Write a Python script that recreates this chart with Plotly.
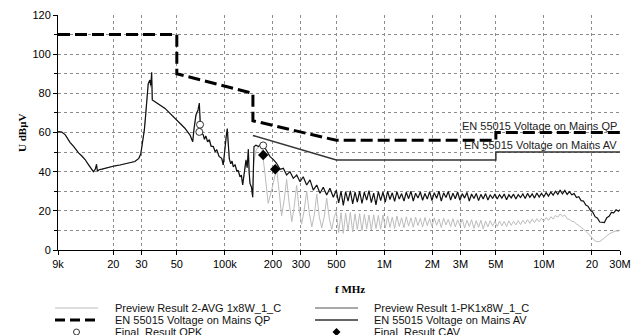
import numpy as np
import plotly.graph_objects as go

# ---------------- data (frequencies in kHz, levels in dBuV) ----------------
lf_khz = [
    9.0, 9.5, 10.0, 10.7, 11.3, 12.1, 12.7, 13.3, 14.0, 14.5,
    15.0, 15.4, 15.7, 15.9, 16.3, 17.0, 17.7, 19.0, 20.5, 22.0,
    23.7, 25.5, 27.3, 28.9, 29.7, 30.1, 30.7, 31.3, 31.9, 32.4,
    33.1, 33.9, 34.3, 34.8, 35.1, 36.5, 39.0, 42.2, 45.0, 48.7,
    52.4, 56.0, 60.5, 62.9, 64.1, 65.9, 67.9, 69.2, 70.6, 73.3,
    74.5, 76.0, 78.0, 80.0, 82.0, 84.7, 87.0, 89.0, 92.0, 95.6,
    97.8, 100.2, 102.0, 103.6, 104.5, 106.7, 109.0, 111.0, 113.0, 116.0,
    119.0, 121.0, 124.5, 127.0, 129.4, 132.0, 135.7, 138.0, 140.4, 142.0,
    143.8, 147.0, 149.5]
pk_lf = [
    60.5, 60.2, 58.8, 55.0, 52.8, 49.6, 48.0, 46.2, 43.5, 41.5,
    40.0, 41.2, 43.8, 40.2, 41.0, 41.3, 41.7, 42.4, 43.0, 43.4,
    43.9, 44.4, 45.2, 46.8, 49.0, 52.0, 56.0, 61.3, 69.0, 76.6,
    85.0, 86.8, 84.0, 90.8, 76.6, 75.7, 74.3, 72.3, 70.0, 67.3,
    65.0, 62.3, 58.7, 55.3, 62.0, 69.0, 71.5, 75.0, 60.4, 58.7,
    56.5, 58.2, 55.2, 56.3, 53.0, 52.8, 50.2, 51.2, 47.8, 46.8,
    43.4, 54.5, 58.0, 62.0, 55.0, 46.5, 44.0, 45.4, 42.5, 43.6,
    40.0, 40.8, 37.4, 38.2, 33.2, 38.0, 46.0, 42.0, 51.5, 40.0,
    34.0, 32.0, 27.0]
avg_lf = [
    60.5, 60.2, 58.8, 55.0, 52.8, 49.6, 48.0, 46.2, 43.5, 41.5,
    40.0, 41.0, 42.0, 40.2, 41.0, 41.3, 41.7, 42.4, 43.0, 43.4,
    43.9, 44.4, 45.2, 46.8, 49.0, 52.0, 56.0, 61.3, 69.0, 76.6,
    85.0, 86.5, 83.0, 86.0, 76.6, 75.7, 74.3, 72.3, 70.0, 67.3,
    65.0, 62.3, 58.7, 55.3, 61.0, 68.0, 71.0, 71.5, 60.4, 58.7,
    56.5, 58.2, 55.2, 56.3, 53.0, 52.8, 50.2, 51.2, 47.8, 46.8,
    43.4, 54.0, 57.5, 59.5, 54.0, 46.5, 44.0, 45.4, 42.5, 43.6,
    40.0, 40.8, 37.4, 38.2, 33.2, 38.0, 45.5, 42.0, 50.0, 40.0,
    34.0, 32.0, 27.0]

pk_mid_khz = [152.3, 156.8, 162.4, 168.0, 174.3, 183.0, 192.0, 201.0, 211.0, 222.0,
              232.6, 244.0, 256.0, 268.7, 282.2, 296.0, 310.0, 325.8, 342.0, 358.6,
              376.6, 395.0, 414.0, 435.0, 456.0, 478.6]
pk_mid = [52.8, 53.5, 52.8, 54.0, 53.6, 50.2, 47.7, 46.3, 44.3, 41.2,
          41.7, 38.3, 40.0, 36.6, 38.3, 34.9, 37.4, 33.2, 35.8, 30.6,
          33.2, 29.0, 32.0, 28.1, 31.5, 26.9]

avg_mid_khz = [152, 157, 165, 170, 178, 187, 197, 211, 219, 227,
               236, 244, 253, 263, 272, 282, 292, 303, 314, 326,
               339, 351, 364, 377, 391, 405, 420, 435, 452, 468, 485]
avg_mid = [45.0, 51.0, 53.5, 53.0, 40.0, 23.8, 31.0, 41.5, 30.0, 17.5,
           26.0, 36.0, 24.0, 14.5, 22.0, 33.0, 21.0, 13.2, 20.0, 30.0,
           18.5, 11.8, 18.0, 28.5, 17.0, 11.3, 17.0, 26.5, 16.0, 10.5, 17.0]

hf_khz = [
    500, 517, 535, 553, 572, 592, 612, 633, 655, 677,
    700, 724, 749, 775, 801, 829, 857, 886, 917, 948,
    980, 1014, 1048, 1084, 1121, 1160, 1199, 1240, 1283, 1327,
    1372, 1419, 1468, 1518, 1570, 1624, 1680, 1737, 1797, 1858,
    1922, 1988, 2056, 2126, 2199, 2274, 2352, 2433, 2516, 2602,
    2691, 2783, 2878, 2977, 3079, 3184, 3293, 3406, 3522, 3643,
    3767, 3896, 4030, 4167, 4310, 4457, 4610, 4768, 4931, 5099,
    5274, 5454, 5641, 5834, 6033, 6240, 6453, 6674, 6902, 7138,
    7383, 7635, 7896, 8167, 8446, 8735, 9034, 9343, 9662, 9993,
    10335, 10688, 11054, 11432, 11823, 12228, 12646, 13078, 13526, 13988,
    14467, 14962, 15474, 16003, 16551, 17117, 17702, 18308, 18934, 19582,
    20252, 20944, 21661, 22402, 23168, 23960, 24780, 25628, 26504, 27411,
    28348, 29318, 30000]
pk_hf = [
    30.5, 24.0, 30.0, 22.8, 29.8, 25.0, 30.2, 23.5, 29.6, 24.5,
    30.0, 23.8, 29.5, 25.5, 30.3, 24.2, 29.0, 23.0, 29.8, 25.2,
    29.6, 24.5, 30.0, 25.8, 29.2, 24.8, 29.8, 26.0, 28.8, 25.0,
    29.5, 26.2, 30.0, 25.0, 29.0, 26.5, 29.6, 25.4, 28.9, 26.0,
    29.8, 25.2, 29.3, 26.4, 30.0, 25.0, 29.2, 26.8, 29.9, 25.5,
    29.0, 26.2, 29.6, 25.4, 28.8, 26.5, 29.4, 25.0, 28.6, 26.3,
    28.9, 25.2, 28.4, 26.0, 28.8, 25.5, 28.2, 26.3, 28.6, 26.0,
    28.3, 26.5, 28.6, 25.6, 28.2, 26.6, 28.5, 26.0, 28.3, 26.8,
    28.6, 26.3, 28.9, 26.9, 28.7, 26.5, 29.1, 27.0, 28.9, 27.2,
    29.3, 27.5, 29.6, 28.0, 30.0, 28.4, 30.6, 28.6, 30.4, 28.4,
    29.8, 28.2, 28.8, 26.8, 27.2, 25.2, 25.0, 23.0, 22.3, 20.3,
    19.3, 17.0, 16.2, 14.3, 14.1, 14.0, 16.5, 17.2, 19.2, 19.0,
    20.5, 19.8, 20.6]
avg_hf = [
    19.5, 9.0, 19.0, 8.5, 18.8, 10.0, 19.2, 9.2, 18.5, 10.5,
    18.6, 10.0, 18.2, 10.8, 17.8, 10.2, 18.0, 11.0, 17.6, 10.6,
    17.9, 11.2, 17.2, 11.5, 16.8, 11.0, 17.4, 12.0, 16.5, 11.4,
    16.9, 12.2, 16.4, 11.6, 16.8, 12.5, 16.2, 11.8, 16.6, 12.4,
    16.0, 12.0, 16.4, 12.6, 15.8, 11.5, 16.2, 12.8, 15.6, 12.0,
    16.0, 11.8, 15.4, 12.4, 15.8, 11.2, 15.2, 12.0, 15.5, 11.0,
    15.0, 11.6, 15.2, 10.8, 14.8, 11.8, 15.0, 12.2, 14.6, 12.0,
    14.8, 12.4, 14.6, 12.0, 14.9, 12.6, 14.7, 12.8, 15.0, 13.0,
    15.2, 13.4, 15.5, 13.6, 15.8, 14.0, 16.0, 14.4, 16.2, 14.8,
    16.5, 15.2, 17.0, 15.8, 17.6, 16.8, 18.4, 17.2, 17.8, 16.0,
    15.6, 14.6, 14.5, 13.2, 12.6, 11.5, 10.8, 9.6, 8.4, 7.0,
    5.8, 4.6, 4.2, 4.4, 5.2, 6.2, 7.4, 8.2, 8.8, 9.2,
    9.8, 9.6, 10.3]

qp_limit_khz = [9, 50, 50, 150, 150, 500, 5000, 5000, 30000]
qp_limit = [110, 110, 90, 80, 66, 56, 56, 60, 60]
av_limit_khz = [150, 500, 5000, 5000, 30000]
av_limit = [58.5, 46, 46, 50, 50]

qpk_khz = [69.9, 69.2, 174.0]
qpk_db = [64.0, 60.3, 53.4]
cav_khz = [174.0, 207.0]
cav_db = [48.5, 41.2]

x_tickvals_khz = [9, 20, 30, 50, 100, 200, 300, 500, 1000, 2000, 3000, 5000, 10000, 20000, 30000]
x_ticktext = ["9k", "20", "30", "50", "100k", "200", "300", "500", "1M", "2M", "3M", "5M", "10M", "20", "30M"]
y_tickvals = [0, 20, 40, 60, 80, 100, 120]

legend_names = ["Preview Result 2-AVG 1x8W_1_C", "Preview Result 1-PK1x8W_1_C",
                "EN 55015 Voltage on Mains QP", "EN 55015 Voltage on Mains AV",
                "Final_Result QPK", "Final_Result CAV"]

# ---------------- figure ----------------
k = 1e3
avg_x = np.array(lf_khz + avg_mid_khz + hf_khz) * k
avg_y = avg_lf + avg_mid + avg_hf
pk_x = np.array(lf_khz + pk_mid_khz + hf_khz) * k
pk_y = pk_lf + pk_mid + pk_hf

GRAY = "#bcbcbc"
PK = "#111111"

fig = go.Figure()
fig.add_trace(go.Scatter(x=avg_x, y=avg_y, mode="lines", line=dict(color=GRAY, width=1),
                         name=legend_names[0]))
fig.add_trace(go.Scatter(x=pk_x, y=pk_y, mode="lines", line=dict(color=PK, width=1.2),
                         name=legend_names[1]))
fig.add_trace(go.Scatter(x=np.array(qp_limit_khz) * k, y=qp_limit, mode="lines",
                         line=dict(color="black", width=3, dash="12px,5px"), name=legend_names[2]))
fig.add_trace(go.Scatter(x=np.array(av_limit_khz) * k, y=av_limit, mode="lines",
                         line=dict(color="#333333", width=1.5), name=legend_names[3]))
fig.add_trace(go.Scatter(x=np.array(qpk_khz) * k, y=qpk_db, mode="markers",
                         marker=dict(symbol="circle", size=7, color="white",
                                     line=dict(color="#333333", width=1)), name=legend_names[4]))
fig.add_trace(go.Scatter(x=np.array(cav_khz) * k, y=cav_db, mode="markers",
                         marker=dict(symbol="diamond", size=8, color="black"), name=legend_names[5]))

L, R, T, B = 58, 11, 15, 85
W, H = 631, 335
PW, PH = W - L - R, H - T - B


def px(xp):
    return (xp - L) / PW


def py(yp):
    return (H - B - yp) / PH


grid = dict(showgrid=True, gridcolor="#8c8c8c", gridwidth=1, griddash="dot")
fig.update_xaxes(type="log", range=[np.log10(9e3), np.log10(30e6)],
                 tickvals=np.array(x_tickvals_khz) * k, ticktext=x_ticktext,
                 showline=True, linecolor="black", linewidth=1, ticks="outside",
                 ticklen=4, tickcolor="black", zeroline=False, automargin=False, **grid)
fig.update_yaxes(range=[0, 120], tickvals=y_tickvals, showline=True, linecolor="black",
                 linewidth=1, ticks="outside", ticklen=4, tickcolor="black", zeroline=False,
                 automargin=False,
                 minor=dict(dtick=10, showgrid=True, gridcolor="#8c8c8c", griddash="dot",
                            ticks="outside", ticklen=3, tickcolor="black"),
                 **grid)

SANS = "Liberation Sans, Arial, sans-serif"
SERIF = "Liberation Serif, Times New Roman, serif"
ann = []
ann.append(dict(xref="paper", yref="paper", x=px(14), y=py(133), text="<b>U dBμV</b>",
                textangle=-90, showarrow=False, font=dict(family=SERIF, size=11, color="black")))
ann.append(dict(xref="paper", yref="paper", x=px(350), y=py(297), text="<b>f MHz</b>",
                showarrow=False, font=dict(family=SERIF, size=11, color="black")))
ann.append(dict(xref="paper", yref="y", x=px(619), y=qp_limit[-1], text=legend_names[2],
                xanchor="right", yanchor="bottom", yshift=-1, showarrow=False,
                font=dict(family=SANS, size=11, color="#222222")))
ann.append(dict(xref="paper", yref="y", x=px(619), y=av_limit[-1], text=legend_names[3],
                xanchor="right", yanchor="bottom", yshift=-1, showarrow=False,
                font=dict(family=SANS, size=11, color="#222222")))

rows = [308, 320, 332]
cols = [(55, 98, 113), (315, 358, 372)]
shapes = []
order = [(0, 0, 0), (1, 0, 1), (2, 1, 0), (3, 1, 1), (4, 2, 0), (5, 2, 1)]
for idx, r, c in order:
    x0, x1, xt = cols[c]
    yr = rows[r]
    ann.append(dict(xref="paper", yref="paper", x=px(xt), y=py(yr), text=legend_names[idx],
                    xanchor="left", yanchor="middle", showarrow=False,
                    font=dict(family=SANS, size=11, color="#111111")))
    if idx == 0:
        shapes.append(dict(type="line", xref="paper", yref="paper", x0=px(x0), x1=px(x1),
                           y0=py(yr), y1=py(yr), line=dict(color=GRAY, width=1)))
    elif idx == 1:
        shapes.append(dict(type="line", xref="paper", yref="paper", x0=px(x0), x1=px(x1),
                           y0=py(yr), y1=py(yr), line=dict(color="#555555", width=1)))
    elif idx == 2:
        shapes.append(dict(type="line", xref="paper", yref="paper", x0=px(x0), x1=px(x1),
                           y0=py(yr), y1=py(yr),
                           line=dict(color="black", width=3, dash="10px,5px")))
    elif idx == 3:
        shapes.append(dict(type="line", xref="paper", yref="paper", x0=px(x0), x1=px(x1),
                           y0=py(yr), y1=py(yr), line=dict(color="#333333", width=1.5)))
    elif idx == 4:
        cx = (x0 + x1) / 2
        shapes.append(dict(type="circle", xref="paper", yref="paper", x0=px(cx - 3), x1=px(cx + 3),
                           y0=py(yr + 3), y1=py(yr - 3), line=dict(color="#333333", width=1),
                           fillcolor="white"))
    else:
        cx = (x0 + x1) / 2
        pts = [(cx, yr - 4), (cx + 4, yr), (cx, yr + 4), (cx - 4, yr)]
        path = "M " + " L ".join(f"{px(a):.5f},{py(b):.5f}" for a, b in pts) + " Z"
        shapes.append(dict(type="path", xref="paper", yref="paper", path=path,
                           fillcolor="black", line=dict(color="black", width=0)))

fig.update_layout(width=W, height=H, margin=dict(l=L, r=R, t=T, b=B),
                  paper_bgcolor="white", plot_bgcolor="white", showlegend=False,
                  font=dict(family=SANS, size=11, color="black"),
                  annotations=ann, shapes=shapes)

fig.write_html("out.html")
